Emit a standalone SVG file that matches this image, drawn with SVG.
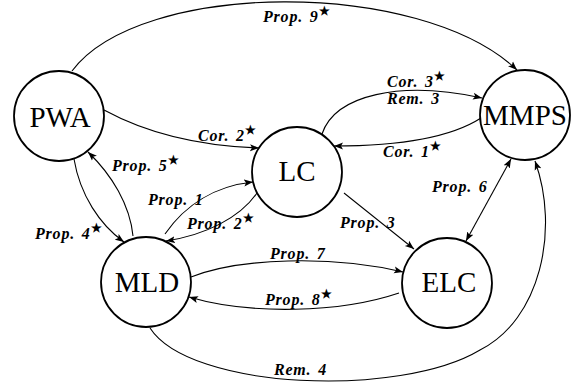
<svg xmlns="http://www.w3.org/2000/svg" width="574" height="385" viewBox="0 0 574 385">
<style>
.node circle{fill:#fff;stroke:#000;stroke-width:1.8}
.node text{font-family:"Liberation Serif",serif;font-size:29px;text-anchor:middle;fill:#000}
.edge{fill:none;stroke:#000;stroke-width:1.1;marker-end:url(#ah)}
.dbl{marker-start:url(#ah)}
.lbl{font-family:"Liberation Serif",serif;font-size:16px;font-weight:bold;font-style:italic;letter-spacing:0.8px;word-spacing:2px;fill:#000}
.st{font-size:12px;font-style:normal;letter-spacing:0}
</style>
<defs>
<marker id="ah" markerUnits="userSpaceOnUse" markerWidth="10" markerHeight="8" refX="9" refY="4" orient="auto-start-reverse" viewBox="0 0 10 8">
<path d="M0,0.5 L9,4 L0,7.5 L2,4 z" fill="#000"/>
</marker>
</defs>
<rect width="574" height="385" fill="#fff"/>
<g id="connectors">
<path class="edge" d="M72,71 C140,-20 420,-22 517,70"/>
<path class="edge" d="M104,110 C150,135 200,146 259,148"/>
<path class="edge" d="M322,134 C335,95 400,80 482,98"/>
<path class="edge" d="M481,118 C450,138 400,146 334,146"/>
<path class="edge" d="M133,236 C130,205 112,175 88,152"/>
<path class="edge" d="M74,159 C80,195 100,225 124,242"/>
<path class="edge" d="M165,234 C185,205 215,186 253,182"/>
<path class="edge" d="M257,193 C240,218 205,235 166,241"/>
<path class="edge" d="M344,193 L414,249"/>
<path class="edge dbl" d="M466,241 L511,159"/>
<path class="edge" d="M191,277 C240,258 330,255 403,272"/>
<path class="edge" d="M399,293 C340,313 250,315 189,297"/>
<path class="edge" d="M150,328 C190,390 400,398 480,350 C540,320 560,230 535,161"/>
</g>
<g id="labels">
<text class="lbl" x="263" y="22">Prop. 9<tspan class="st" dy="-7">★</tspan></text>
<text class="lbl" x="198" y="141">Cor. 2<tspan class="st" dy="-7">★</tspan></text>
<text class="lbl" x="387" y="87">Cor. 3<tspan class="st" dy="-7">★</tspan></text>
<text class="lbl" x="387" y="104">Rem. 3</text>
<text class="lbl" x="383" y="157">Cor. 1<tspan class="st" dy="-7">★</tspan></text>
<text class="lbl" x="112" y="171">Prop. 5<tspan class="st" dy="-7">★</tspan></text>
<text class="lbl" x="432" y="192">Prop. 6</text>
<text class="lbl" x="148" y="205">Prop. 1</text>
<text class="lbl" x="187" y="229">Prop. 2<tspan class="st" dy="-7">★</tspan></text>
<text class="lbl" x="340" y="228">Prop. 3</text>
<text class="lbl" x="35" y="239">Prop. 4<tspan class="st" dy="-7">★</tspan></text>
<text class="lbl" x="270" y="259">Prop. 7</text>
<text class="lbl" x="265" y="305">Prop. 8<tspan class="st" dy="-7">★</tspan></text>
<text class="lbl" x="274" y="375">Rem. 4</text>
</g>
<g id="PWA" class="node"><circle cx="59" cy="116" r="45"/><text x="60" y="127">PWA</text></g>
<g id="LC" class="node"><circle cx="297" cy="172" r="45"/><text x="297" y="181">LC</text></g>
<g id="MMPS" class="node"><circle cx="525" cy="115" r="45"/><text x="525" y="125">MMPS</text></g>
<g id="MLD" class="node"><circle cx="146" cy="282" r="45"/><text x="147" y="292">MLD</text></g>
<g id="ELC" class="node"><circle cx="447" cy="283" r="45"/><text x="449" y="292">ELC</text></g>
</svg>
